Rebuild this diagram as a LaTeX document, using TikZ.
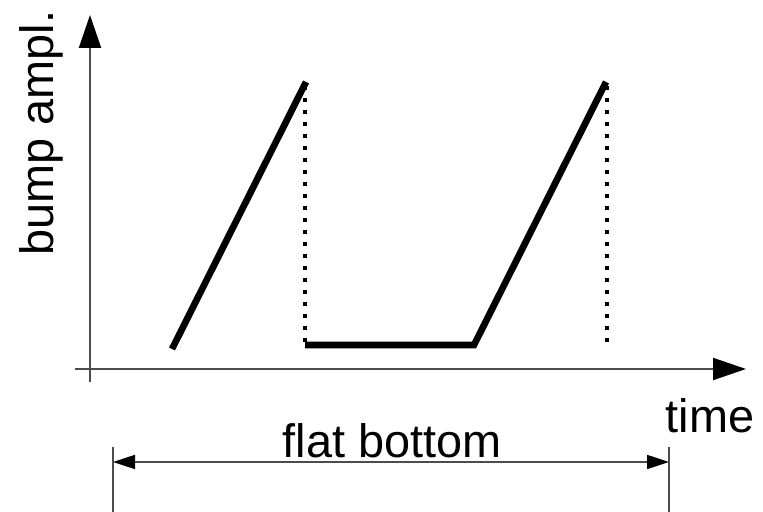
\documentclass[tikz,border=0pt]{standalone}
\usepackage{fontspec}
\setmainfont{Liberation Sans}
\usetikzlibrary{arrows.meta}

\begin{document}
\begin{tikzpicture}[
            x=0.03cm, y=0.03cm,
            lbl/.style={font=\fontsize{40}{48}\selectfont, inner sep=0pt},
            axis/.style={draw=gray!60!black, line width=0.06cm, -{Triangle[length=0.99cm, width=0.66cm, color=black]}},
            ramp/.style={line width=0.2cm},
            guide/.style={line width=0.13cm, dash pattern=on 0.12cm off 0.24cm},
            dim/.style={draw=gray!60!black, line width=0.05cm},
        ]
        \useasboundingbox (0,0) rectangle (763,512);
        % axes
        \coordinate (yfoot) at (90,130);
        \coordinate (ytip) at (90,497);
        \coordinate (xfoot) at (75,143);
        \coordinate (xtip) at (746,143);
        \draw[axis] (yfoot) -- (ytip);
        \draw[axis] (xfoot) -- (xtip);
        % ramps and flat bottom
        \coordinate (rise1) at (172,163);
        \coordinate (top1) at (306,430);
        \coordinate (low1) at (305,167);
        \coordinate (low2) at (474,167);
        \coordinate (top2) at (606,430);
        \draw[ramp] (rise1) -- (top1);
        \draw[ramp] (low1) -- (low2) -- (top2);
        \draw[guide] (305,426) -- (305,167);
        \draw[guide] (607,426) -- (607,167);
        % span of the flat bottom
        \coordinate (tickL) at (113,65);
        \coordinate (tickR) at (669,65);
        \draw[dim] (tickL) -- (113,0);
        \draw[dim] (tickR) -- (669,0);
        \coordinate (spanL) at (113,50);
        \coordinate (spanR) at (669,50);
        \draw[dim, {Triangle[length=0.66cm, width=0.42cm, color=black]}-{Triangle[length=0.66cm, width=0.42cm, color=black]}] (spanL) -- (spanR);
        \node[lbl, anchor=base] (flat) at (392,54) {flat bottom};
        \node[lbl, anchor=base] (time) at (710,79) {time};
        \node[lbl, anchor=base, rotate=90] (ampl) at (53,379) {bump ampl.};
    \end{tikzpicture}
\end{document}
